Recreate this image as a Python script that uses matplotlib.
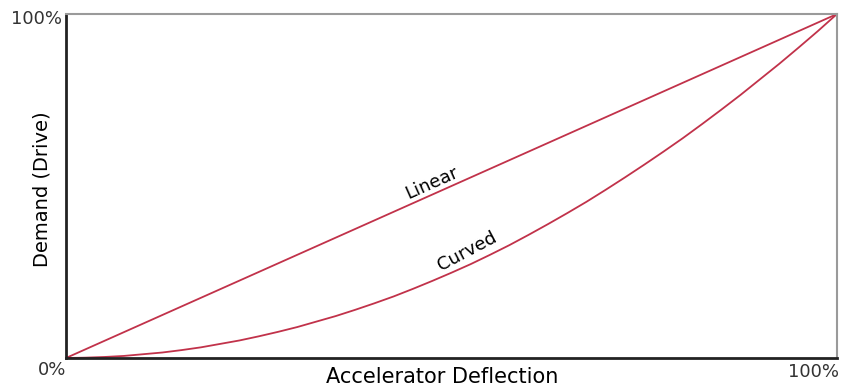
import numpy as np
import matplotlib
matplotlib.use("Agg")
import matplotlib.pyplot as plt

# accelerator deflection (%) and resulting drive demand (%)
deflection = [0, 2.5, 5, 7.5, 10, 12.5, 15, 17.5, 20, 22.5, 25, 27.5, 30, 32.5, 35,
              37.5, 40, 42.5, 45, 47.5, 50, 52.5, 55, 57.5, 60, 62.5, 65, 67.5, 70,
              72.5, 75, 77.5, 80, 82.5, 85, 87.5, 90, 92.5, 95, 97.5, 100]
curved_demand = [0, 0.1, 0.3, 0.6, 1.1, 1.6, 2.3, 3.1, 4.1, 5.1, 6.3, 7.6, 9.0, 10.6, 12.2,
                 14.0, 15.9, 17.9, 20.1, 22.4, 24.8, 27.3, 30.0, 32.8, 35.8, 38.9, 42.1, 45.4, 48.9,
                 52.5, 56.2, 60.0, 63.9, 68.0, 72.2, 76.5, 81.0, 85.5, 90.2, 95.0, 100]
linear_deflection = [0, 100]
linear_demand = [0, 100]

LINE_COLOR = '#c1324a'
FONT = 'DejaVu Sans'

fig = plt.figure(figsize=(8.5, 3.88), dpi=100)
ax = fig.add_axes([0.0776, 0.0773, 0.9071, 0.8866])

ax.plot(linear_deflection, linear_demand, color=LINE_COLOR, lw=1.3)
ax.plot(deflection, curved_demand, color=LINE_COLOR, lw=1.3)

ax.set_xlim(0, 100)
ax.set_ylim(0, 100)
ax.set_xticks([])
ax.set_yticks([])

for side in ('left', 'bottom'):
    ax.spines[side].set_color('#222222')
    ax.spines[side].set_linewidth(2.0)
for side in ('top', 'right'):
    ax.spines[side].set_color('#9a9a9a')
    ax.spines[side].set_linewidth(1.5)

# curve labels
ax.text(47.5, 51.0, 'Linear', rotation=24, fontsize=13, family=FONT,
        ha='center', va='center', rotation_mode='anchor')
ax.text(52, 31.0, 'Curved', rotation=28, fontsize=13, family=FONT,
        ha='center', va='center', rotation_mode='anchor')

# percentage markers at the corners
ax.text(-0.5, 98.5, '100%', fontsize=13, family=FONT, color='#333333',
        ha='right', va='center', clip_on=False)
ax.text(-1.8, -3.5, '0%', fontsize=13, family=FONT, color='#333333',
        ha='center', va='center', clip_on=False)
ax.text(100.2, -4.2, '100%', fontsize=13, family=FONT, color='#333333',
        ha='right', va='center', clip_on=False)

fig.text(442 / 850, 1 - 377 / 388, 'Accelerator Deflection', fontsize=15,
         family=FONT, ha='center', va='center')
fig.text(42 / 850, 1 - 189 / 388, 'Demand (Drive)', fontsize=14,
         family=FONT, ha='center', va='center', rotation=90)

fig.savefig('out.png', dpi=100, facecolor='white')
